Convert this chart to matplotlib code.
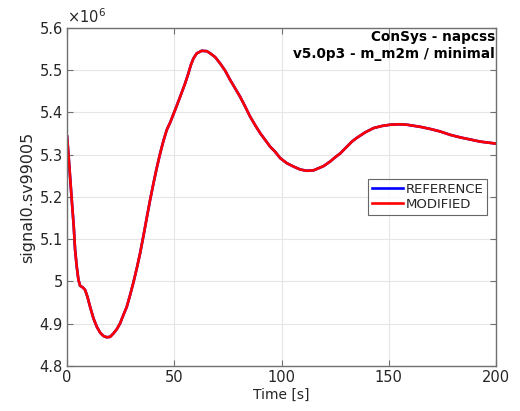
import matplotlib
matplotlib.use("Agg")
import matplotlib.pyplot as plt
from matplotlib.ticker import FuncFormatter

# signal0.sv99005, in units of 1e6
time_s = [0.0, 0.62, 1.40, 2.18, 3.11, 3.73, 4.51, 5.29, 6.06, 7.31, 8.40,
          9.48, 10.73, 12.28, 13.84, 15.39, 16.95, 18.50, 20.06, 21.61,
          23.17, 24.72, 26.27, 27.83, 29.38, 30.94, 32.49, 34.05, 35.60,
          37.16, 38.71, 40.26, 41.82, 43.38, 44.93, 46.49, 48.04, 50.37,
          52.70, 55.04, 56.59, 57.68, 58.92, 60.48, 62.81, 65.14, 66.70,
          69.03, 71.36, 73.69, 76.02, 78.36, 80.69, 83.02, 85.35, 87.68,
          90.02, 92.35, 94.68, 97.01, 99.34, 102.45, 105.56, 108.67, 111.78,
          114.89, 117.22, 119.55, 122.66, 125.00, 127.33, 130.44, 132.77,
          135.10, 138.99, 142.87, 146.76, 150.65, 154.53, 158.42, 164.64,
          169.30, 173.97, 178.63, 183.30, 187.96, 192.62, 198.84, 200.0]
signal_e6 = [5.343, 5.303, 5.248, 5.193, 5.130, 5.075, 5.035, 5.004, 4.990,
             4.986, 4.980, 4.964, 4.940, 4.913, 4.893, 4.879, 4.871, 4.868,
             4.869, 4.877, 4.887, 4.901, 4.921, 4.940, 4.968, 4.998, 5.031,
             5.067, 5.108, 5.151, 5.193, 5.232, 5.269, 5.303, 5.333, 5.359,
             5.376, 5.406, 5.437, 5.469, 5.493, 5.512, 5.528, 5.540, 5.546,
             5.545, 5.540, 5.531, 5.516, 5.499, 5.477, 5.457, 5.437, 5.414,
             5.390, 5.370, 5.351, 5.335, 5.319, 5.307, 5.292, 5.280, 5.272,
             5.265, 5.262, 5.263, 5.268, 5.273, 5.284, 5.294, 5.303, 5.319,
             5.331, 5.340, 5.353, 5.363, 5.368, 5.371, 5.372, 5.371, 5.366,
             5.361, 5.355, 5.347, 5.341, 5.336, 5.331, 5.327, 5.326]

x_ticks = [0, 50, 100, 150, 200]
y_ticks = [4.8, 4.9, 5.0, 5.1, 5.2, 5.3, 5.4, 5.5, 5.6]

plt.rcParams["font.family"] = ["DejaVu Sans"]
txt = "#262626"
axc = "#707070"

fig = plt.figure(figsize=(5.2, 4.11), dpi=100)
ax = fig.add_axes([0.129, 0.1095, 0.825, 0.8225])

ax.plot(time_s, signal_e6, color="blue", lw=1.9, label="REFERENCE")
ax.plot(time_s, signal_e6, color="red", lw=1.9, label="MODIFIED")

ax.set_xlim(0, 200)
ax.set_ylim(4.8, 5.6)
ax.set_xticks(x_ticks)
ax.set_yticks(y_ticks)
ax.yaxis.set_major_formatter(FuncFormatter(lambda v, p: f"{v:g}"))
ax.grid(True, color="#e6e6e6", lw=0.8)
ax.set_axisbelow(True)
ax.tick_params(direction="in", top=True, right=True, length=4,
               colors=axc, labelcolor=txt, labelsize=10.5, pad=3)
for s in ax.spines.values():
    s.set_color(axc)
    s.set_linewidth(1.0)

ax.set_xlabel("Time [s]", fontsize=10, color=txt, labelpad=2)
ax.set_ylabel("signal0.sv99005", fontsize=11.5, color=txt, labelpad=3)
ax.text(0.0, 1.005, r"$\times10^{6}$", transform=ax.transAxes,
        fontsize=10.5, color=txt, ha="left", va="bottom")

ax.text(0.998, 0.993, "ConSys - napcss\nv5.0p3 - m_m2m / minimal",
        transform=ax.transAxes, ha="right", va="top", fontsize=9.8,
        fontweight="bold", color="black", linespacing=1.2)

leg = ax.legend(loc="center right", bbox_to_anchor=(0.985, 0.5), fontsize=9.5,
                frameon=True, fancybox=False, handlelength=2.3,
                handletextpad=0.2, borderpad=0.3, labelspacing=0.15,
                borderaxespad=0.2)
leg.get_frame().set_edgecolor("#404040")
leg.get_frame().set_linewidth(0.8)
for t in leg.get_texts():
    t.set_color(txt)

fig.savefig("out.png", dpi=100)
